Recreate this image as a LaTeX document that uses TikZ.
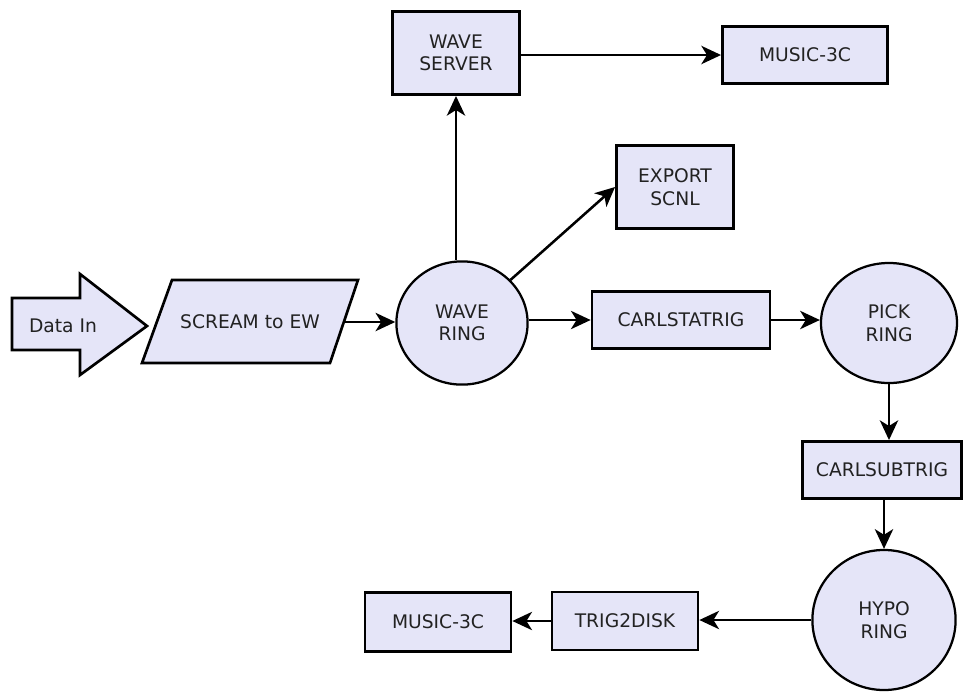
\documentclass[tikz,border=0pt]{standalone}
\usepackage{fontspec}
\setmainfont{DejaVu Sans}
\usetikzlibrary{arrows.meta,shapes.geometric}
\definecolor{ringfill}{RGB}{229,229,248}
\definecolor{inktext}{RGB}{34,34,34}
\tikzset{
  every node/.style={font=\fontsize{13.3}{16}\selectfont,text=inktext,align=center},
  modbox/.style={draw,line width=1.9pt,fill=ringfill,inner sep=0pt},
  ring/.style={draw,ellipse,line width=1.6pt,fill=ringfill,inner sep=0pt},
  flow/.style={line width=1.8pt,-{Stealth[length=14pt,width=13pt,inset=4pt]}}
}
\begin{document}
\begin{tikzpicture}[x=0.025cm,y=-0.025cm]
\useasboundingbox (0,0) rectangle (963,693);
% input arrow and parallelogram
\draw[line width=1.9pt,fill=ringfill] (12,298) -- (80,298) -- (80,274) -- (147,326) -- (80,375) -- (80,350) -- (12,350) -- cycle;
\node (datain) at (63,326) {Data In};
\draw[line width=1.9pt,fill=ringfill] (172,280) -- (358,280) -- (330,363) -- (142,363) -- cycle;
\node (scream) at (250,322) {SCREAM to EW};
\coordinate (screamout) at (344,322);
% rings
\node[ring,minimum width=3.28cm,minimum height=3.08cm] (wavering) at (462,323) {WAVE\\RING};
\node[ring,minimum width=3.4cm,minimum height=3.0cm] (pickring) at (889,323) {PICK\\RING};
\node[ring,minimum width=3.58cm,minimum height=3.5cm] (hyporing) at (884,620) {HYPO\\RING};
% modules
\node[modbox,minimum width=3.18cm,minimum height=2.08cm] (waveserver) at (456,53) {WAVE\\SERVER};
\node[modbox,minimum width=4.13cm,minimum height=1.43cm] (musictop) at (805,55) {MUSIC-3C};
\node[modbox,minimum width=2.93cm,minimum height=2.08cm] (export) at (675,187) {EXPORT\\SCNL};
\node[modbox,minimum width=4.45cm,minimum height=1.43cm] (carlstatrig) at (681,320) {CARLSTATRIG};
\node[modbox,minimum width=3.98cm,minimum height=1.43cm] (carlsubtrig) at (882,470) {CARLSUBTRIG};
\node[modbox,minimum width=3.65cm,minimum height=1.45cm] (trigdisk) at (625,621) {TRIG2DISK};
\node[modbox,minimum width=3.65cm,minimum height=1.48cm] (musicbot) at (438,622) {MUSIC-3C};
% connectors
\draw[flow] (screamout) -- (wavering.west |- screamout);
\draw[flow] (wavering.north -| waveserver.south) -- (waveserver.south);
\draw[flow] (waveserver.east |- musictop) -- (musictop.west);
\draw[flow] (wavering) -- (export.west);
\draw[flow] (wavering.east |- carlstatrig) -- (carlstatrig.west);
\draw[flow] (carlstatrig.east) -- (pickring.west |- carlstatrig);
\draw[flow] (pickring.south) -- (pickring.south |- carlsubtrig.north);
\draw[flow] (carlsubtrig.south -| hyporing.north) -- (hyporing.north);
\draw[flow] (hyporing.west) -- (trigdisk.east |- hyporing.west);
\draw[flow] (trigdisk.west) -- (musicbot.east |- trigdisk.west);
\end{tikzpicture}
\end{document}
